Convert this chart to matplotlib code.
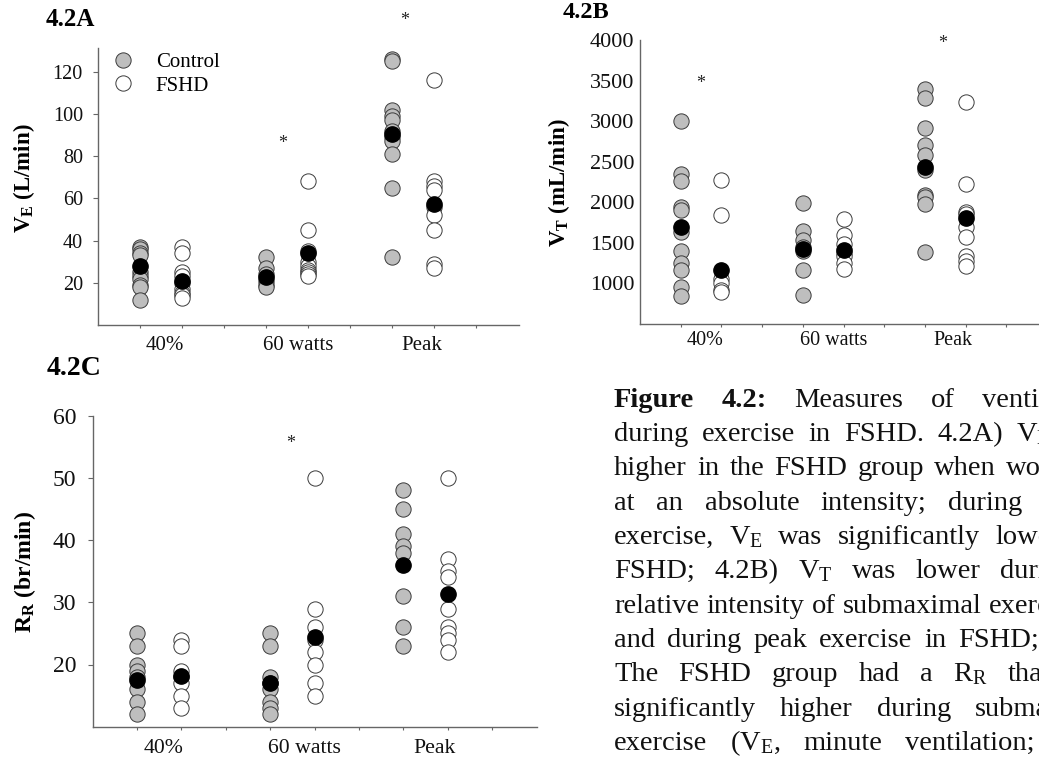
import matplotlib
matplotlib.use('Agg')
import matplotlib.pyplot as plt
from matplotlib.lines import Line2D

plt.rcParams['font.family'] = 'Liberation Serif'
plt.rcParams['mathtext.fontset'] = 'custom'
plt.rcParams['mathtext.rm'] = 'Liberation Serif'
plt.rcParams['mathtext.it'] = 'Liberation Serif:italic'
plt.rcParams['mathtext.bf'] = 'Liberation Serif:bold'

conditions = ['40%', '60 watts', 'Peak']
control_pos = [1, 4, 7]
fshd_pos = [2, 5, 8]
label_pos = [1.6, 4.77, 7.7]

# 4.2A  minute ventilation (L/min)
ve_control = [[37, 36, 34, 33, 25, 23, 22, 19, 18, 12],
              [32, 27, 24, 21, 19, 18],
              [126, 125, 102, 99, 97, 92, 89, 87, 81, 65, 32]]
ve_fshd = [[37, 34, 25, 23, 20, 17, 15, 14, 13],
           [68, 45, 35, 30, 28, 26, 25, 24, 23],
           [116, 68, 66, 64, 56, 52, 45, 29, 27]]
ve_control_mean = [28, 22.5, 90.5]
ve_fshd_mean = [21, 34, 57.5]
ve_stars = [(4.4, 86), (7.3, 144)]

# 4.2B  tidal volume (mL/min)
vt_control = [[3000, 2350, 2260, 1940, 1900, 1630, 1400, 1250, 1170, 950, 850],
              [1990, 1650, 1530, 1450, 1400, 1170, 860],
              [3390, 3290, 2920, 2700, 2580, 2400, 2090, 2060, 1980, 1390]]
vt_fshd = [[2270, 1840, 1050, 1000, 920, 900],
           [1800, 1600, 1490, 1380, 1340, 1250, 1180],
           [3240, 2220, 1880, 1850, 1700, 1570, 1340, 1280, 1210]]
vt_control_mean = [1700, 1430, 2440]
vt_fshd_mean = [1160, 1410, 1810]
vt_stars = [(1.5, 3466), (7.44, 3960)]

# 4.2C  respiratory rate (br/min)
rr_control = [[25, 23, 20, 19, 18, 16, 14, 12],
              [25, 23, 18, 17, 16, 14, 13, 12],
              [48, 45, 41, 39, 38, 31, 26, 23]]
rr_fshd = [[24, 23, 19, 18, 17, 15, 13],
           [50, 29, 26, 24, 22, 20, 17, 15],
           [50, 37, 35, 34, 29, 26, 25, 24, 22]]
rr_control_mean = [17.5, 17, 36]
rr_fshd_mean = [18.1, 24.4, 31.4]
rr_stars = [(4.46, 55.6)]

W, H = 1039, 761
GRAY = '#bebebe'
EDGE = '#3a3a3a'
SPINE = '#666666'
MS = 11

fig = plt.figure(figsize=(W / 100, H / 100), dpi=100)


def px_rect(left, top, width, bottom):
    return [left / W, 1 - bottom / H, width / W, (bottom - top) / H]


def panel(rect, control, fshd, cmean, fmean, ylim, yticks, stars, yfs, xfs, ytlen, ypad, xpad):
    ax = fig.add_axes(rect)
    for i in range(3):
        ax.plot([control_pos[i]] * len(control[i]), control[i], 'o', ms=MS,
                mfc=GRAY, mec=EDGE, mew=0.7, ls='none', zorder=3, clip_on=False)
        ax.plot([fshd_pos[i]] * len(fshd[i]), fshd[i], 'o', ms=MS,
                mfc='white', mec=EDGE, mew=0.7, ls='none', zorder=3, clip_on=False)
    ax.plot(control_pos, cmean, 'o', ms=MS, mfc='black', mec='black', ls='none', zorder=4)
    ax.plot(fshd_pos, fmean, 'o', ms=MS, mfc='black', mec='black', ls='none', zorder=4)
    for sx, sy in stars:
        ax.text(sx, sy, '*', ha='center', va='center', fontsize=13, color='#222222')
    ax.set_xlim(0, 10)
    ax.set_ylim(*ylim)
    ax.set_yticks(yticks)
    ax.set_xticks(range(1, 10))
    ax.set_xticklabels([])
    ax.set_xticks(label_pos, conditions, minor=True)
    ax.tick_params(axis='x', which='major', length=2, direction='out', color=SPINE)
    ax.tick_params(axis='x', which='minor', length=0, pad=xpad, labelsize=xfs, labelcolor='#111111')
    ax.tick_params(axis='y', length=ytlen, pad=ypad, color=SPINE, labelsize=yfs, labelcolor='#111111')
    for s in ['top', 'right']:
        ax.spines[s].set_visible(False)
    for s in ['left', 'bottom']:
        ax.spines[s].set_color(SPINE)
        ax.spines[s].set_linewidth(1.0)
    return ax


axA = panel(px_rect(97.5, 48.3, 421, 325), ve_control, ve_fshd, ve_control_mean, ve_fshd_mean,
            (0, 131), [20, 40, 60, 80, 100, 120], ve_stars, 14.5, 15, 3.5, 7, 8)
axB = panel(px_rect(640, 40, 407, 324), vt_control, vt_fshd, vt_control_mean, vt_fshd_mean,
            (500, 4000), [1000, 1500, 2000, 2500, 3000, 3500, 4000], vt_stars, 16, 14.5, 0, 4, 5)
axC = panel(px_rect(92.5, 415.7, 444, 726.7), rr_control, rr_fshd, rr_control_mean, rr_fshd_mean,
            (10, 60), [20, 30, 40, 50, 60], rr_stars, 17, 15.7, 3.5, 8, 9)

handles = [Line2D([], [], marker='o', ls='none', ms=MS, mfc=GRAY, mec=EDGE, mew=0.7),
           Line2D([], [], marker='o', ls='none', ms=MS, mfc='white', mec=EDGE, mew=0.7)]
axA.legend(handles, ['Control', 'FSHD'], loc='upper left', bbox_to_anchor=(0.037, 0.985),
           frameon=False, fontsize=15, borderpad=0, handlelength=1.0,
           handletextpad=1.05, labelspacing=0.2, borderaxespad=0)

# panel titles and axis labels
fig.text(46 / W, 1 - 20 / H, '4.2A', fontsize=18, fontweight='bold', va='center')
fig.text(563 / W, 1 - 13 / H, '4.2B', fontsize=17.5, fontweight='bold', va='center')
fig.text(47 / W, 1 - 369 / H, '4.2C', fontsize=20, fontweight='bold', va='center')
fig.text(24 / W, 1 - 178 / H, r'V$_\mathbf{E}$ (L/min)', rotation=90, fontsize=16.5,
         fontweight='bold', ha='center', va='center')
fig.text(559 / W, 1 - 183 / H, r'V$_\mathbf{T}$ (mL/min)', rotation=90, fontsize=16.5,
         fontweight='bold', ha='center', va='center')
fig.text(25 / W, 1 - 572 / H, r'R$_\mathbf{R}$ (br/min)', rotation=90, fontsize=17,
         fontweight='bold', ha='center', va='center')

# caption (justified lines, cut at the page edge)
caption = [
    (['Figure', '4.2:', 'Measures', 'of', 'ventilation'], 982, 2),
    (['during', 'exercise', 'in', 'FSHD.', '4.2A)', r'V$_\mathrm{E}$'], 1016, 0),
    (['higher', 'in', 'the', 'FSHD', 'group', 'when', 'working'], 1006, 0),
    (['at', 'an', 'absolute', 'intensity;', 'during'], 948, 0),
    (['exercise,', r'V$_\mathrm{E}$', 'was', 'significantly', 'lower'], 995, 0),
    (['FSHD;', '4.2B)', r'V$_\mathrm{T}$', 'was', 'lower', 'during'], 1000, 0),
    (['relative', 'intensity', 'of', 'submaximal', 'exercise'], 989, 0),
    (['and', 'during', 'peak', 'exercise', 'in', 'FSHD;'], 958, 0),
    (['The', 'FSHD', 'group', 'had', 'a', r'R$_\mathrm{R}$', 'that'], 1008, 0),
    (['significantly', 'higher', 'during', 'submaximal'], 975, 0),
    (['exercise', r'(V$_\mathrm{E}$,', 'minute', 'ventilation;'], 905, 0),
]
renderer = fig.canvas.get_renderer()
x0 = 614
for k, (words, xlast, nbold) in enumerate(caption):
    y = 1 - (406.7 + 34.33 * k) / H
    texts = []
    for j, w in enumerate(words):
        t = fig.text(0, y, w, fontsize=20.5, va='baseline', color='#111111',
                     fontweight='bold' if j < nbold else 'normal')
        texts.append(t)
    widths = [t.get_window_extent(renderer).width for t in texts]
    gap = (xlast - x0 - sum(widths[:-1])) / (len(words) - 1)
    x = x0
    for t, wd in zip(texts, widths):
        t.set_x(x / W)
        x += wd + gap

fig.savefig('out.png', dpi=100)
